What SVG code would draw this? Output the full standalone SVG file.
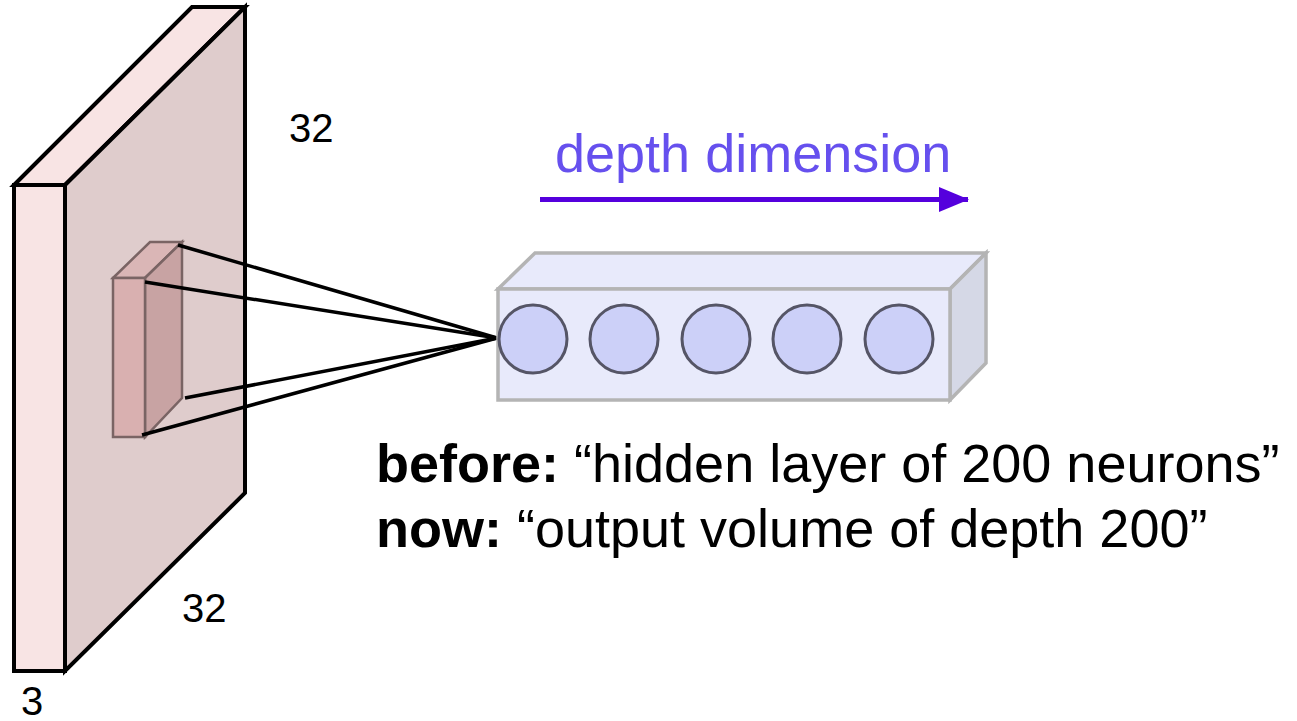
<svg xmlns="http://www.w3.org/2000/svg" width="1297" height="721" viewBox="0 0 1297 721">
<style>
  .lbl{font-family:"Liberation Sans",Arial,sans-serif;fill:#000}
  .slab{stroke:#000;stroke-width:4;stroke-linejoin:miter}
  .recep{stroke:#7a6464;stroke-width:2.5}
  .conn{stroke:#000;stroke-width:3.5;fill:none}
  .box{stroke:#b4b4b4;stroke-width:3.5}
  .neuron{fill:#ccd0f8;stroke:#555566;stroke-width:3}
</style>
<defs>
  <marker id="ah" markerWidth="6" markerHeight="5" refX="5.8" refY="2.5" orient="auto" markerUnits="strokeWidth">
    <path d="M0,0 L6,2.5 L0,5 Z" fill="#5500dd"/>
  </marker>
</defs>
<rect width="1297" height="721" fill="#fff"/>

<g id="input-volume">
  <polygon class="slab" points="14,185 192,7 245,7 65,185" fill="#f8e4e4"/>
  <polygon class="slab" points="65,185 245,7 245,493 65,671" fill="#dfcccc"/>
  <rect class="slab" x="14" y="185" width="51" height="486" fill="#f8e4e4"/>
</g>

<g id="receptive-field">
  <polygon class="recep" points="113,278 150,242 182,242 145,278" fill="#dab6b6"/>
  <polygon class="recep" points="145,278 182,242 182,398 145,437" fill="#c8a3a3"/>
  <rect class="recep" x="113" y="278" width="32" height="159" fill="#d9b0b0"/>
</g>

<g id="connectors">
  <line class="conn" x1="178" y1="245" x2="497" y2="338"/>
  <line class="conn" x1="145" y1="282" x2="497" y2="338"/>
  <line class="conn" x1="185" y1="398" x2="497" y2="338"/>
  <line class="conn" x1="142" y1="435" x2="497" y2="338"/>
  <line x1="540" y1="199.5" x2="968" y2="199.5" stroke="#5500dd" stroke-width="5" marker-end="url(#ah)"/>
</g>

<g id="output-column">
  <polygon class="box" points="498,289 535,253 986,253 950,289" fill="#e8eafb"/>
  <polygon class="box" points="950,289 986,253 986,363 950,400" fill="#d5d8e6"/>
  <rect class="box" x="498" y="289" width="452" height="111" fill="#e8eafb"/>
  <circle class="neuron" cx="533" cy="339" r="34"/>
  <circle class="neuron" cx="624" cy="339" r="34"/>
  <circle class="neuron" cx="716" cy="339" r="34"/>
  <circle class="neuron" cx="807" cy="339" r="34"/>
  <circle class="neuron" cx="899" cy="339" r="34"/>
</g>

<g id="labels">
  <text class="lbl" x="289" y="142" font-size="40">32</text>
  <text class="lbl" x="182" y="622" font-size="40">32</text>
  <text class="lbl" x="21" y="715" font-size="40">3</text>
  <text class="lbl" x="555" y="172" font-size="54" style="fill:#6650ee">depth dimension</text>
  <text class="lbl" x="376" y="482" font-size="54"><tspan font-weight="bold">before:</tspan> “hidden layer of 200 neurons”</text>
  <text class="lbl" x="376" y="547" font-size="54"><tspan font-weight="bold">now:</tspan> “output volume of depth 200”</text>
</g>
</svg>
